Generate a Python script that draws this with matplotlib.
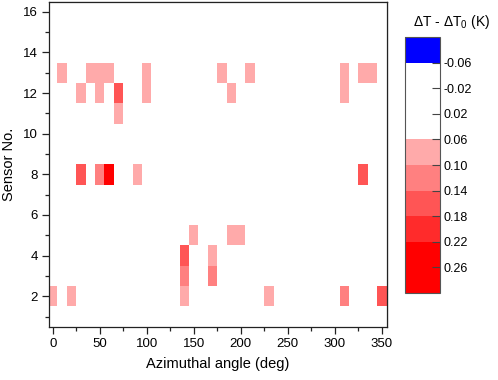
import numpy as np
import matplotlib
matplotlib.use("Agg")
import matplotlib.pyplot as plt
from matplotlib.colors import ListedColormap, BoundaryNorm
from matplotlib.ticker import MultipleLocator

plt.rcParams['font.family'] = ['Liberation Sans', 'DejaVu Sans']
plt.rcParams['mathtext.fontset'] = 'custom'
plt.rcParams['mathtext.rm'] = 'Liberation Sans'

# azimuthal angle (deg), sensor number, delta T - delta T0 (K)
angles = [10, 40, 50, 60, 100, 180, 210, 310, 330, 340,
          30, 50, 70, 100, 190, 310,
          70,
          30, 50, 60, 90, 330,
          150, 190, 200,
          140, 170,
          140, 170,
          0, 20, 140, 230, 310, 350]
sensors = [13, 13, 13, 13, 13, 13, 13, 13, 13, 13,
           12, 12, 12, 12, 12, 12,
           11,
           8, 8, 8, 8, 8,
           5, 5, 5,
           4, 4,
           3, 3,
           2, 2, 2, 2, 2, 2]
values = [0.08, 0.08, 0.08, 0.08, 0.08, 0.08, 0.08, 0.08, 0.08, 0.08,
          0.08, 0.08, 0.16, 0.08, 0.08, 0.08,
          0.08,
          0.16, 0.12, 0.26, 0.08, 0.16,
          0.08, 0.08, 0.08,
          0.17, 0.08,
          0.12, 0.12,
          0.08, 0.08, 0.08, 0.08, 0.12, 0.16]

levels = [-0.10, -0.06, 0.06, 0.10, 0.14, 0.18, 0.22, 0.30]
level_colors = ['#0000ff', '#ffffff', '#ffaaaa', '#ff8080',
                '#ff5555', '#ff2b2b', '#ff0000']
cbar_ticks = [-0.06, -0.02, 0.02, 0.06, 0.10, 0.14, 0.18, 0.22, 0.26]

angle_grid = np.arange(0, 360, 10)
sensor_grid = np.arange(1, 17)
grid = np.zeros((len(sensor_grid), len(angle_grid)))
for a, s, v in zip(angles, sensors, values):
    grid[s - 1, a // 10] = v

x_edges = np.append(angle_grid - 5, angle_grid[-1] + 5)
y_edges = np.append(sensor_grid - 0.5, sensor_grid[-1] + 0.5)

cmap = ListedColormap(level_colors)
norm = BoundaryNorm(levels, cmap.N)

fig = plt.figure(figsize=(4.98, 3.8), dpi=100)
ax = fig.add_axes([0.0984, 0.1403, 0.6787, 0.8552])
mesh = ax.pcolormesh(x_edges, y_edges, grid, cmap=cmap, norm=norm)

ax.set_xlim(-4, 355.5)
ax.set_ylim(0.5, 16.5)
ax.xaxis.set_major_locator(MultipleLocator(50))
ax.xaxis.set_minor_locator(MultipleLocator(25))
ax.yaxis.set_major_locator(MultipleLocator(2))
ax.yaxis.set_minor_locator(MultipleLocator(1))
ax.tick_params(which='both', direction='out', labelsize=9.5, width=0.9, color='#222222')
ax.tick_params(which='major', length=5, pad=3)
ax.tick_params(which='minor', length=3)
for sp in ax.spines.values():
    sp.set_linewidth(0.9)
    sp.set_color('#222222')

# mirrored inward ticks on top and right
top = ax.secondary_xaxis('top')
top.xaxis.set_major_locator(MultipleLocator(50))
top.xaxis.set_minor_locator(MultipleLocator(25))
top.tick_params(which='both', direction='in', labeltop=False, width=0.9, color='#222222')
top.tick_params(which='major', length=5)
top.tick_params(which='minor', length=3)
right = ax.secondary_yaxis('right')
right.yaxis.set_major_locator(MultipleLocator(2))
right.yaxis.set_minor_locator(MultipleLocator(1))
right.tick_params(which='both', direction='in', labelright=False, width=0.9, color='#222222')
right.tick_params(which='major', length=5)
right.tick_params(which='minor', length=3)

ax.set_xlabel('Azimuthal angle (deg)', fontsize=10.5, labelpad=5)
ax.set_ylabel('Sensor No.', fontsize=10.5, labelpad=5)

cax = fig.add_axes([0.813, 0.2297, 0.071, 0.6721])
cbar = fig.colorbar(mesh, cax=cax, spacing='proportional', ticks=cbar_ticks)
cbar.ax.invert_yaxis()
cbar.ax.set_yticklabels(['%.2f' % t for t in cbar_ticks])
cbar.ax.tick_params(direction='in', length=6, width=0.8, color='#444444',
                    labelsize=9, pad=2)
cbar.outline.set_edgecolor('#555555')
cbar.outline.set_linewidth(0.8)
cbar.ax.minorticks_off()

fig.text(0.907, 0.943, 'ΔT - ΔT$_0$ (K)', ha='center', va='center', fontsize=10)

fig.savefig('out.png', dpi=100)
